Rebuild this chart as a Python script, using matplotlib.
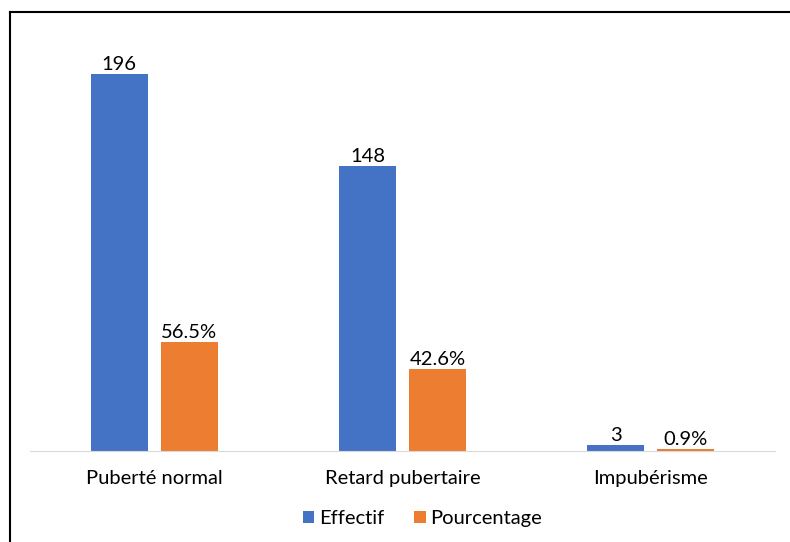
import matplotlib.pyplot as plt
from matplotlib.lines import Line2D
import numpy as np

categories = ["Puberté normal", "Retard pubertaire", "Impubérisme"]
effectif = [196, 148, 3]
pourcentage = [56.5, 42.6, 0.9]
pct_labels = ["56.5%", "42.6%", "0.9%"]

plt.rcParams['font.family'] = ['Lato', 'DejaVu Sans']

fig = plt.figure(figsize=(7.9, 5.42), dpi=100)
ax = fig.add_axes([30 / 790, 1 - 451 / 542, 745 / 790, (451 - 40) / 542])

x = np.arange(len(categories))
w = 0.23
b1 = ax.bar(x - 0.141, effectif, w, color='#4472C4', label='Effectif')
b2 = ax.bar(x + 0.141, pourcentage, w, color='#ED7D31', label='Pourcentage')

for rect, v in zip(b1, effectif):
    ax.annotate(str(v), (rect.get_x() + rect.get_width() / 2, rect.get_height()),
                xytext=(0, 1), textcoords='offset points', ha='center', va='bottom',
                fontsize=14.5, color='#000000')
for rect, t in zip(b2, pct_labels):
    ax.annotate(t, (rect.get_x() + rect.get_width() / 2, rect.get_height()),
                xytext=(0, 1), textcoords='offset points', ha='center', va='bottom',
                fontsize=14.5, color='#000000')

ax.set_xlim(-0.5, 2.5)
ax.set_ylim(0, 213.7)
ax.set_xticks(x)
ax.set_xticklabels(categories, fontsize=14.5)
ax.tick_params(axis='x', length=0, pad=14)
ax.set_yticks([])
for s in ['top', 'right', 'left']:
    ax.spines[s].set_visible(False)
ax.spines['bottom'].set_color('#d9d9d9')

ax.legend(loc='upper center', bbox_to_anchor=(0.527, -0.1), ncol=2, frameon=False,
          fontsize=14.5, handlelength=0.55, handleheight=0.55, handletextpad=0.25,
          columnspacing=1.5)

# outer frame (left and top edges visible)
fig.add_artist(Line2D([10 / 790, 10 / 790], [0, 1 - 12 / 542], transform=fig.transFigure,
                      color='black', lw=1.5))
fig.add_artist(Line2D([10 / 790, 1], [1 - 12 / 542, 1 - 12 / 542], transform=fig.transFigure,
                      color='black', lw=1.5))

fig.savefig('out.png', dpi=100)
